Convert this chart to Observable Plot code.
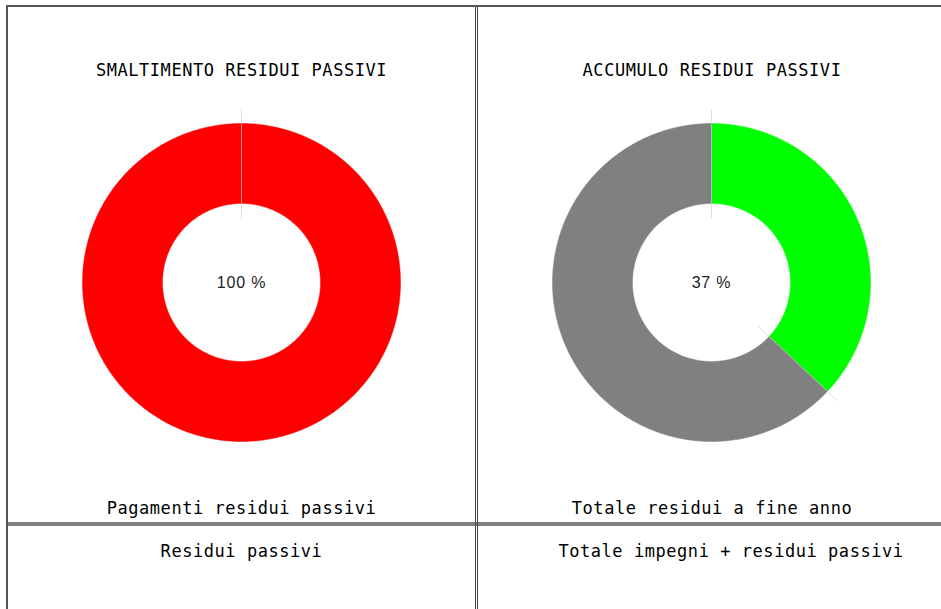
<!DOCTYPE html>
<html>
<head>
<meta charset="utf-8">
<script src="https://cdn.jsdelivr.net/npm/d3@7"></script>
<script src="https://cdn.jsdelivr.net/npm/@observablehq/plot@0.6"></script>
<style>
  html, body { margin: 0; padding: 0; background: #fff; }
  #page { position: relative; width: 941px; height: 609px; overflow: hidden; background: #fff; }
  .rule { position: absolute; }
  .label { position: absolute; text-align: center; white-space: pre;
           font-family: "DejaVu Sans Mono", "Liberation Mono", monospace;
           font-size: 17px; letter-spacing: 0.55px; line-height: 20px; color: #000; }
  .chart { position: absolute; }
</style>
</head>
<body>
<div id="page"></div>
<script>
// ---- data ----
const titles = ["SMALTIMENTO RESIDUI PASSIVI", "ACCUMULO RESIDUI PASSIVI"];
const numeratorLabels = ["Pagamenti residui passivi", "Totale residui a fine anno"];
const denominatorLabels = ["Residui passivi", "Totale impegni + residui passivi"];
const percentages = [100, 37];

// ---- styles / layout ----
const valueColors = ["#ff0000", "#00ff00"];
const restColor = "#808080";
const cells = [
  {cx: 241.5, chartCx: 241, bottomCx: 241.5},
  {cx: 712, chartCx: 711, bottomCx: 731}
];

const page = document.getElementById("page");
function rule(l, t, w, h, c) {
  const d = document.createElement("div");
  d.className = "rule";
  Object.assign(d.style, {left: l + "px", top: t + "px", width: w + "px", height: h + "px", background: c});
  page.appendChild(d);
}
// table borders
rule(8, 522, 933, 4, "#808080");
rule(6, 5, 935, 2, "#555");
rule(6, 5, 2, 604, "#555");
rule(475, 7, 1, 602, "#444");
rule(477, 7, 1, 602, "#444");

function label(text, cx, centerY) {
  const d = document.createElement("div");
  d.className = "label";
  d.textContent = text;
  const w = 460;
  Object.assign(d.style, {left: (cx - w / 2) + "px", width: w + "px", top: (centerY - 10) + "px"});
  page.appendChild(d);
}

const R = 159;          // outer radius in px
const S = 360;          // svg size
const D = (S / 2) / R;  // domain half-extent in units of outer radius
const inner = 79 / R;

function arcPolygon(f0, f1, r0, r1) {
  const pts = [];
  const n = Math.max(2, Math.ceil((f1 - f0) * 720));
  for (let i = 0; i <= n; i++) {
    const a = 2 * Math.PI * (f0 + (f1 - f0) * i / n);
    pts.push({x: r1 * Math.sin(a), y: r1 * Math.cos(a)});
  }
  for (let i = n; i >= 0; i--) {
    const a = 2 * Math.PI * (f0 + (f1 - f0) * i / n);
    pts.push({x: r0 * Math.sin(a), y: r0 * Math.cos(a)});
  }
  return pts;
}

percentages.forEach((p, i) => {
  const cell = cells[i];
  label(titles[i], cell.cx, 70);
  label(numeratorLabels[i], cell.cx, 508);
  label(denominatorLabels[i], cell.bottomCx, 551);

  const frac = p / 100;
  const slices = [
    {f0: 0, f1: frac, color: valueColors[i]},
    {f0: frac, f1: 1, color: restColor}
  ].filter(s => s.f1 - s.f0 > 1e-9);
  const boundaries = Array.from(new Set([0, frac % 1])).map(f => ({
    x1: 0.4 * Math.sin(2 * Math.PI * f), y1: 0.4 * Math.cos(2 * Math.PI * f),
    x2: 1.09 * Math.sin(2 * Math.PI * f), y2: 1.09 * Math.cos(2 * Math.PI * f)
  }));

  const marks = slices.map(s => Plot.line(arcPolygon(s.f0, s.f1, inner, 1), {
    x: "x", y: "y", fill: s.color, stroke: s.color, strokeWidth: 0.5, curve: "linear-closed"
  }));
  marks.push(Plot.link(boundaries, {x1: "x1", y1: "y1", x2: "x2", y2: "y2", stroke: "#cfcfcf", strokeOpacity: 0.7, strokeWidth: 1}));
  marks.push(Plot.text([{x: 0, y: 0, t: p + " %"}], {
    x: "x", y: "y", text: "t", fill: "#222", fontSize: 16,
    fontFamily: "Liberation Sans, Arial, sans-serif"
  }));

  const svg = Plot.plot({
    width: S, height: S, margin: 0,
    x: {domain: [-D, D], axis: null},
    y: {domain: [-D, D], axis: null},
    style: {background: "transparent", overflow: "visible", letterSpacing: "0.8px"},
    marks
  });
  const wrap = document.createElement("div");
  wrap.className = "chart";
  Object.assign(wrap.style, {left: (cell.chartCx - S / 2) + "px", top: (282 - S / 2) + "px", width: S + "px", height: S + "px"});
  wrap.appendChild(svg);
  page.appendChild(wrap);
});
</script>
</body>
</html>
